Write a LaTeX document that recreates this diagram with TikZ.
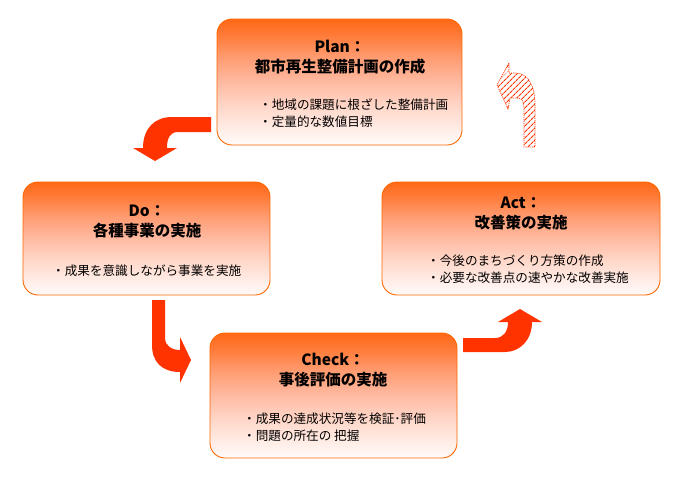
\documentclass[tikz,border=0pt]{standalone}
\usepackage{fontspec}
\setmainfont{Noto Sans CJK JP}
\usetikzlibrary{patterns.meta}
\definecolor{boxorange}{RGB}{255,102,0}
\definecolor{arrowred}{RGB}{255,51,0}
\definecolor{sA}{RGB}{255,104,22}
\definecolor{sB}{RGB}{255,125,60}
\definecolor{sC}{RGB}{255,155,112}
\definecolor{sD}{RGB}{255,186,162}
\definecolor{sE}{RGB}{255,216,202}
\definecolor{sF}{RGB}{255,240,235}
\definecolor{sG}{RGB}{255,251,249}
\pgfdeclareverticalshading{boxshade}{100bp}{%
  color(0bp)=(sG);
  color(25bp)=(sG);
  color(30bp)=(sF);
  color(40bp)=(sE);
  color(50bp)=(sD);
  color(60bp)=(sC);
  color(68bp)=(sB);
  color(75bp)=(sA);
  color(100bp)=(sA)}
\tikzset{
  phasebox/.style={draw=boxorange, line width=0.9pt, rounded corners=15pt,
    shading=boxshade, inner sep=0pt},
  titletext/.style={align=center, inner sep=0pt, font=\fontsize{15.5}{20}\selectfont\bfseries},
  bullettext/.style={align=left, anchor=west, inner sep=0pt, font=\fontsize{12.6}{17}\selectfont},
  blockarrow/.style={fill=arrowred, draw=none},
  hatcharrow/.style={pattern={Lines[angle=45,distance=4pt,line width=1.1pt]}, pattern color=arrowred, draw=arrowred, densely dotted, line width=0.7pt}
}
\begin{document}
\begin{tikzpicture}[x=1pt,y=-1pt]
\useasboundingbox (0,0) rectangle (687,488);
% boxes
\node[phasebox, minimum width=245pt, minimum height=126pt] (plan) at (339.5,82) {};
\node[phasebox, minimum width=247pt, minimum height=113pt] (do) at (146.5,238.5) {};
\node[phasebox, minimum width=278pt, minimum height=113pt] (act) at (521,238.5) {};
\node[phasebox, minimum width=247pt, minimum height=125pt] (check) at (333.5,395.5) {};
% texts
\node[titletext] (plantitle) at (340,57) {Plan：\\都市再生整備計画の作成};
\node[bullettext] (planitems) at (259,113.5) {・地域の課題に根ざした整備計画\\・定量的な数値目標};
\node[titletext] (dotitle) at (147,221) {Do：\\各種事業の実施};
\node[bullettext] (doitems) at (52,271) {・成果を意識しながら事業を実施};
\node[titletext] (acttitle) at (521,213) {Act：\\改善策の実施};
\node[bullettext] (actitems) at (427,269.5) {・今後のまちづくり方策の作成\\・必要な改善点の速やかな改善実施};
\node[titletext] (checktitle) at (333,370) {Check：\\事後評価の実施};
\node[bullettext] (checkitems) at (243,427.5) {・成果の達成状況等を検証･評価\\・問題の所在の 把握};
% arrows
\fill[blockarrow] (211,117) -- (172,117) .. controls (155,117) and (143,128) .. (143,148)
  -- (133,148) -- (155,161) -- (177,148) -- (167,148)
  .. controls (167,138) and (170,132) .. (178,132) -- (211,132) -- cycle;
\fill[blockarrow] (152,300) -- (165,300) -- (165,338) .. controls (165,346) and (172,350) .. (180,350)
  -- (180,337) -- (191,360) -- (180,383) -- (180,372)
  .. controls (162,372) and (152,362) .. (152,345) -- cycle;
\fill[blockarrow] (463,338) -- (495,338) .. controls (503,338) and (508,332) .. (508,322)
  -- (498,322) -- (520,309) -- (542,322) -- (532,322)
  .. controls (532,340) and (520,352) .. (505,352) -- (463,352) -- cycle;
\draw[hatcharrow] (509,63) -- (497,85) -- (508,109) -- (510,98) -- (518,98)
  .. controls (522,98) and (524,102) .. (524,110) -- (524,147) -- (535,147) -- (535,105)
  .. controls (535,85) and (528,73) .. (515,73) -- (509,73) -- cycle;
\end{tikzpicture}
\end{document}
